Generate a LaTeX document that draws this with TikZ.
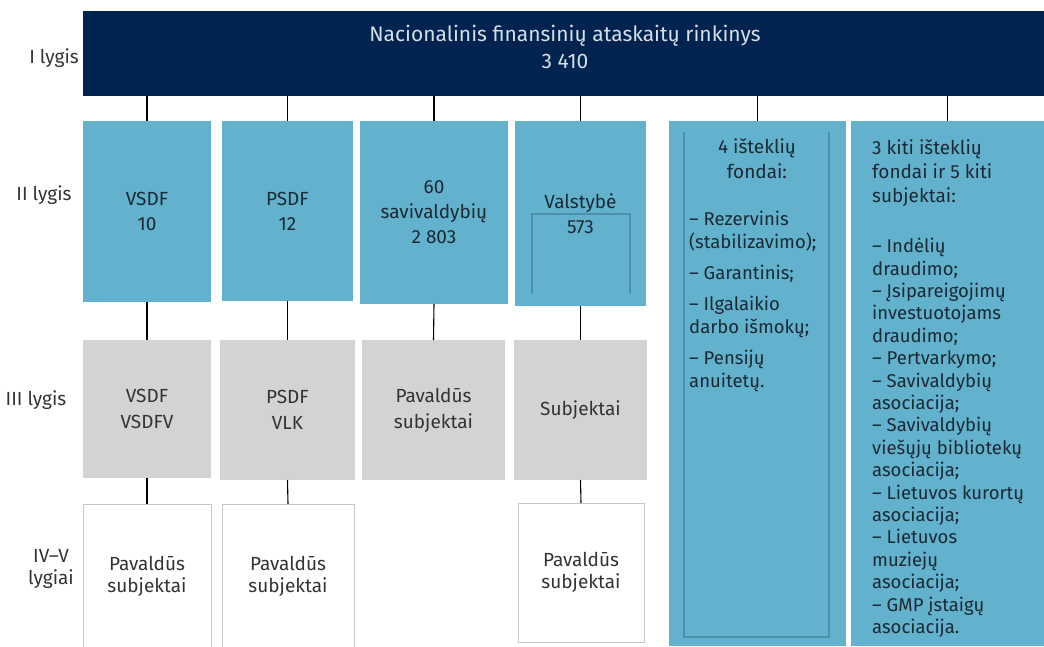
\documentclass[tikz,border=0pt]{standalone}
\usepackage{fontspec}
\setmainfont{Fira Sans}
\definecolor{barnavy}{HTML}{00234F}
\definecolor{boxblue}{HTML}{63B2CD}
\definecolor{innerblue}{HTML}{4C90AA}
\definecolor{boxgrey}{HTML}{D3D3D3}
\definecolor{frameline}{HTML}{C6C6C6}
\definecolor{bartext}{HTML}{D8DEE6}
\definecolor{bluetext}{HTML}{1B2935}
\definecolor{darktext}{HTML}{333333}
\tikzset{
  lvl/.style={font=\fontsize{19}{22}\selectfont, text=darktext, align=center},
  cell/.style={anchor=north west, inner sep=0pt, outer sep=0pt, align=center},
  bluebox/.style={cell, fill=boxblue, text=bluetext, font=\fontsize{19}{25}\selectfont},
  greybox/.style={cell, fill=boxgrey, text=darktext, font=\fontsize{19}{26}\selectfont},
  whitebox/.style={cell, draw=frameline, line width=0.8pt, fill=white, text=darktext, font=\fontsize{19}{22}\selectfont},
  listtext/.style={anchor=north west, inner sep=0pt, align=left, text=bluetext, font=\fontsize{18.5}{22.4}\selectfont},
  link/.style={line width=1.1pt, black},
  bracket/.style={draw=innerblue, line width=1.2pt}
}
\begin{document}
\begin{tikzpicture}[x=1pt,y=-1pt]
\useasboundingbox (0,0) rectangle (1044,646);
% I lygis
\node[cell, fill=barnavy, minimum width=961pt, minimum height=85pt] (nfar) at (83,11) {};
\node[align=center, text=bartext, font=\fontsize{21}{27}\selectfont] (nfartxt) at (565,46.5) {Nacionalinis finansinių ataskaitų rinkinys\\3 410};
\node[lvl] (l1) at (54,58) {I lygis};
% II lygis
\node[bluebox, minimum width=128pt, minimum height=181pt] (vsdf) at (83,121) {VSDF\\10};
\node[bluebox, minimum width=131pt, minimum height=180pt] (psdf) at (222,121) {PSDF\\12};
\node[bluebox, minimum width=148pt, minimum height=183pt] (savi) at (360,121) {60\\savivaldybių\\2 803};
\node[bluebox, minimum width=131pt, minimum height=185pt] (valst) at (515,121) {Valstybė\\573};
\node[bluebox, minimum width=177pt, minimum height=525pt] (fondai) at (669,121) {};
\node[bluebox, minimum width=193pt, minimum height=525pt] (kiti) at (851,121) {};
\node[lvl] (l2) at (44,195) {II lygis};
\draw[bracket] (532,294) -- (532,214) -- (630,214) -- (630,294);
\draw[bracket] (684,132) -- (684,637) -- (829,637) -- (829,132);
\node[align=center, text=bluetext, font=\fontsize{19}{25}\selectfont] (fondaihd) at (757,159) {4 išteklių\\fondai:};
\node[listtext] (fondailst) at (689,211) {– Rezervinis\\(stabilizavimo);\\[9pt]– Garantinis;\\[9pt]– Ilgalaikio\\darbo išmokų;\\[9pt]– Pensijų\\anuitetų.};
\node[listtext, font=\fontsize{19}{24}\selectfont] (kitihd) at (872,139) {3 kiti išteklių\\fondai ir 5 kiti\\subjektai:};
\node[listtext] (kitilst) at (872,238) {– Indėlių\\draudimo;\\– Įsipareigojimų\\investuotojams\\draudimo;\\– Pertvarkymo;\\– Savivaldybių\\asociacija;\\– Savivaldybių\\viešųjų bibliotekų\\asociacija;\\– Lietuvos kurortų\\asociacija;\\– Lietuvos\\muziejų\\asociacija;\\– GMP įstaigų\\asociacija.};
% III lygis
\node[greybox, minimum width=128pt, minimum height=138pt] (vsdf3) at (83,340) {VSDF\\VSDFV};
\node[greybox, minimum width=135pt, minimum height=140pt] (psdf3) at (220,340) {PSDF\\VLK};
\node[greybox, minimum width=143pt, minimum height=140pt] (savi3) at (362,340) {Pavaldūs\\subjektai};
\node[greybox, minimum width=133pt, minimum height=140pt] (valst3) at (514,340) {Subjektai};
\node[lvl] (l3) at (36,400) {III lygis};
% IV-V lygiai
\node[whitebox, minimum width=128pt, minimum height=145pt] (vsdf4) at (83,504) {Pavaldūs\\subjektai};
\node[whitebox, minimum width=132pt, minimum height=145pt] (psdf4) at (222,504) {Pavaldūs\\subjektai};
\node[whitebox, minimum width=126pt, minimum height=139pt] (valst4) at (518,503) {Pavaldūs\\subjektai};
\node[lvl] (l4) at (51,569) {IV–V\\lygiai};
% jungtys
\foreach \n in {vsdf,psdf,savi,valst,fondai,kiti}
  \draw[link] (nfar.south -| \n.north) -- (\n.north);
\foreach \n in {vsdf,psdf,savi,valst}
  \draw[link] (\n.south) -- (\n3.north);
\foreach \n in {vsdf,psdf,valst}
  \draw[link] (\n3.south) -- (\n4.north);
\end{tikzpicture}
\end{document}
